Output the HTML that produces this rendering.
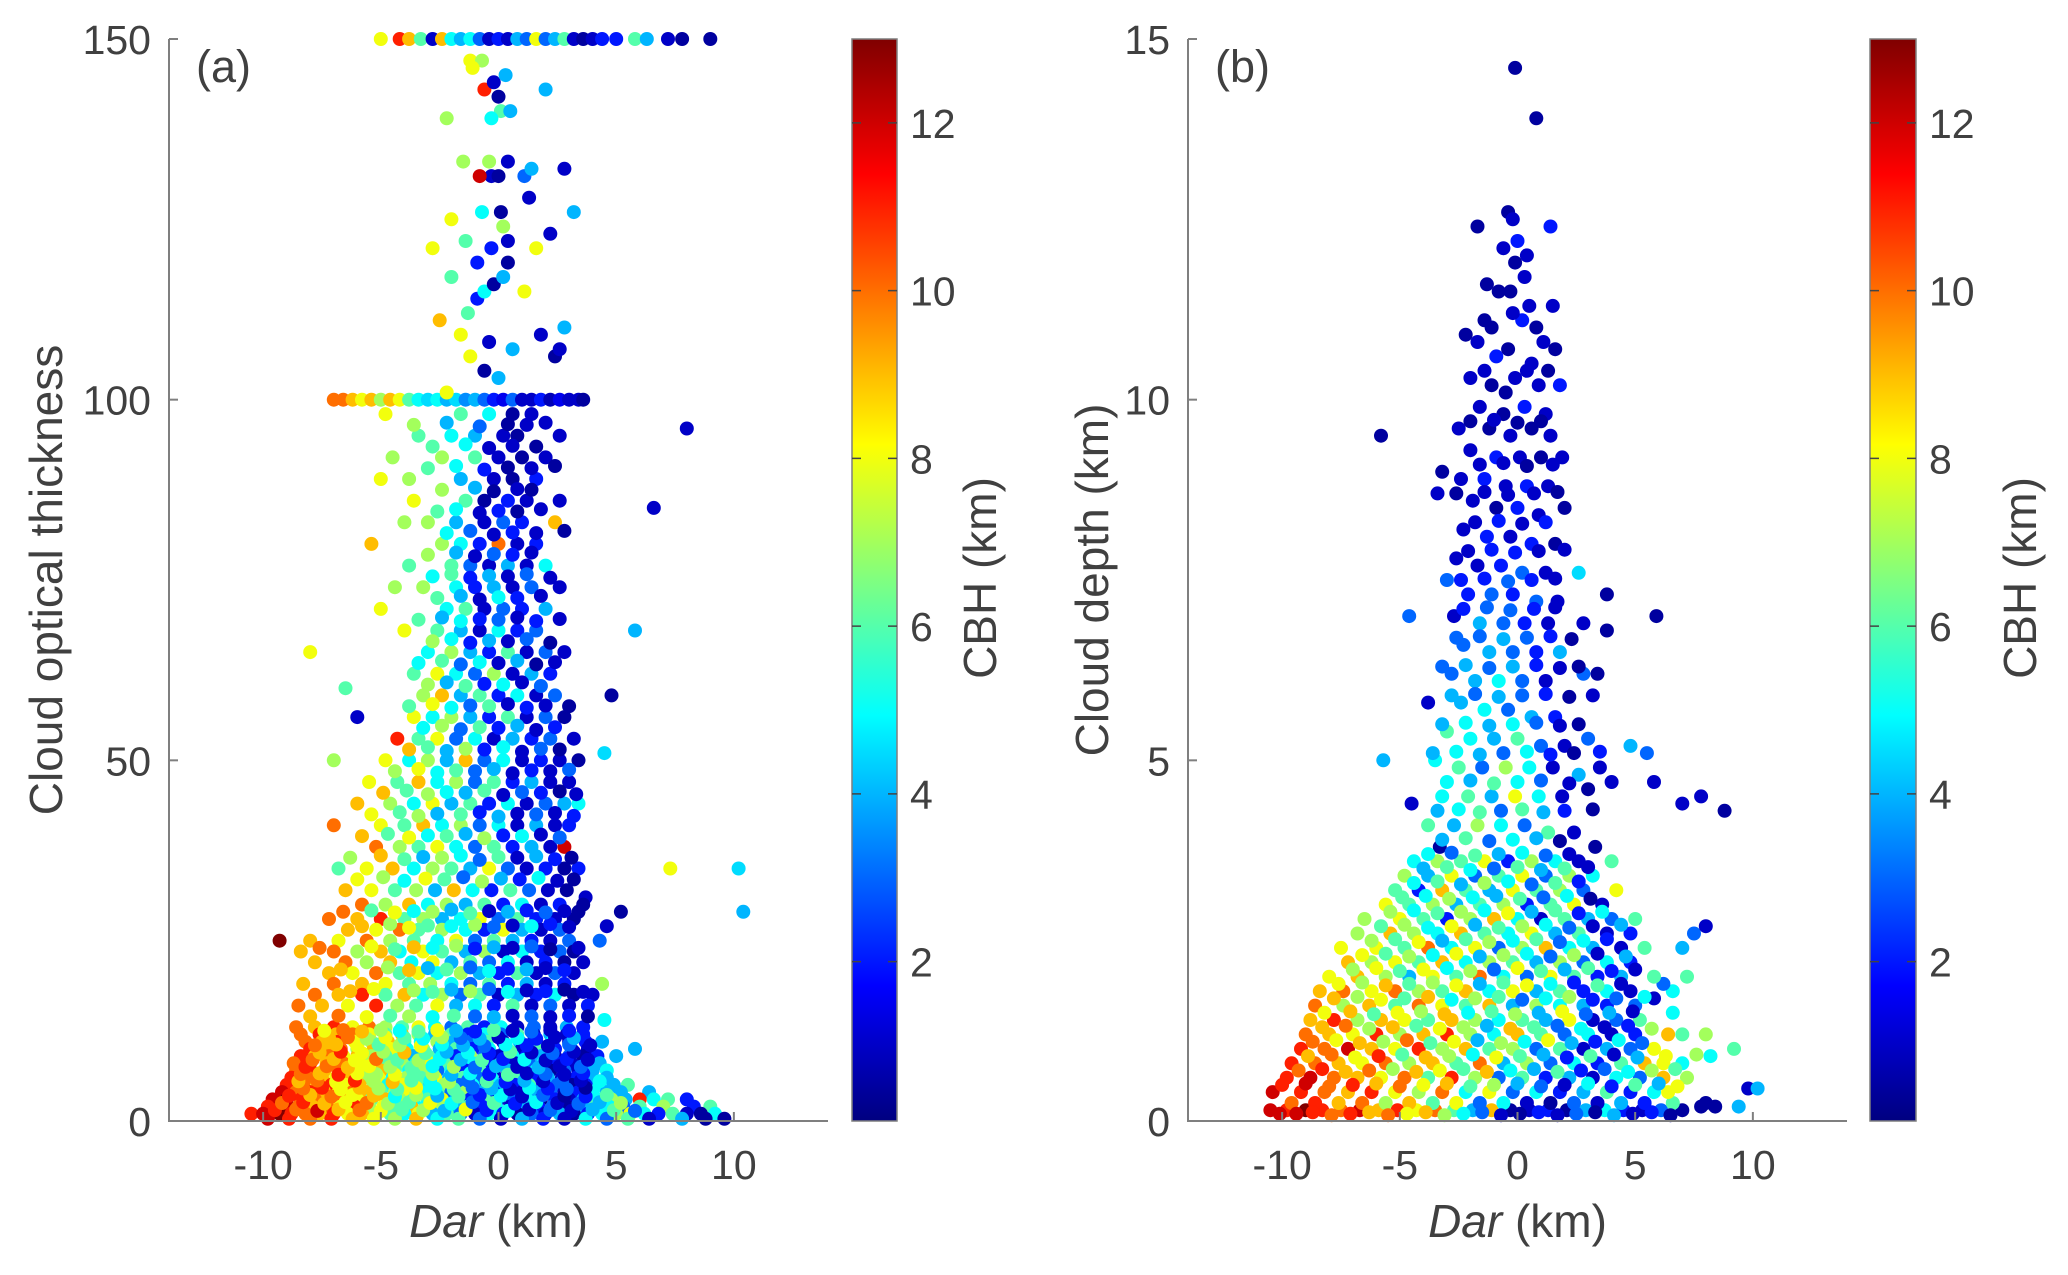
<!DOCTYPE html>
<html><head><meta charset="utf-8"><style>
html,body{margin:0;padding:0;background:#fff;}
svg{display:block;font-family:"Liberation Sans",Arial,sans-serif;}
</style></head><body>
<svg id="fig" width="2068" height="1275" viewBox="0 0 2068 1275" xmlns="http://www.w3.org/2000/svg">
<defs><linearGradient id="jetgrad" x1="0" y1="1" x2="0" y2="0"></linearGradient></defs>
</svg>
<script>
// ===== Data =====
const xTicks=[-10,-5,0,5,10];
const yTicksA=[0,50,100,150];
const yTicksB=[0,5,10,15];
const cTicks=[2,4,6,8,10,12];
const xDomain=[-14,14];
const yDomainA=[0,150];
const yDomainB=[0,15];
const cDomain=[0.1,13];

// panel (a): [Dar, optical thickness, CBH]
const pointsA=[
[-5,150,8],[-4.2,150,11],[-3.8,150,9],[-3.3,150,6],[-2.8,150,1],[-2.4,150,9],[-2,150,5],[-1.6,150,4],[-1.2,150,5],[-0.8,150,3],[-0.4,150,1],[0,150,2],[0.4,150,1],[0.8,150,4],[1.2,150,3],[1.6,150,8],[2,150,3],[2.4,150,4],[2.8,150,6],[3.2,150,1],[3.6,150,0.5],[4,150,1],[4.4,150,2],[5,150,2],[5.8,150,6],[6.3,150,4],[7.2,150,1],[7.8,150,0.5],[9,150,0.5],
[-7,100,10],[-6.6,100,10],[-6.2,100,9],[-5.8,100,8],[-5.4,100,9],[-5,100,7],[-4.6,100,9],[-4.2,100,8],[-3.8,100,6],[-3.4,100,5],[-3,100,4.5],[-2.6,100,5],[-2.2,100,4],[-1.8,100,4.5],[-1.4,100,3.5],[-1,100,4],[-0.6,100,3],[-0.2,100,2],[0.2,100,1.5],[0.6,100,3],[1,100,1],[1.4,100,1],[1.8,100,2],[2.2,100,0.8],[2.6,100,1.5],[3,100,1],[3.4,100,1],[3.6,100,0.5],
[-2.2,101,8],[0,103,4],[-1.2,106,8],[-0.6,104,0.5],[1.8,109,1],[2.4,106,0.5],[2.6,107,1],[-0.4,108,1],[0.6,107,4],[-1.6,109,8],[-1.3,112,6],[-0.9,114,2],[-0.6,115,5],[-0.2,116,0.5],[2.8,110,4],[1.1,115,8],[-2.5,111,9],[-0.9,119,2],[-2,117,6],[0.2,117,4],[0.4,119,0.5],[-0.3,121,2],[-2.8,121,8],[1.6,121,8],[0.1,126,0.5],[0.4,122,1],[-1.4,122,6],[0.2,124,7],[2.2,123,1],[3.2,126,4],[-2,125,8],[-0.7,126,5],[1.3,128,1],[-0.3,131,1],[0,131,0.5],[0.4,133,1],[1.1,131,3],[1.4,132,4],[2.8,132,1],[-0.8,131,12],[-0.4,133,7],[-1.5,133,7],[0.1,140,6],[-0.3,139,5],[0,142,0.5],[-2.2,139,7],[0.5,140,4],[-0.6,143,11],[-0.2,144,1],[0.3,145,4],[-1.2,147,8],[-0.7,147,7],[2,143,4],[-1.1,146,8],
[-4.8,98,8],[-1.6,98,6],[-0.4,98,5],[0.6,98,0.5],[1.4,98,1],
[-3.4,95,6],[-2,95,5],[-1,95,4],[0.2,95,1],[0.8,95,0.5],[2.6,95,1],[8,96,1],
[-4.5,92,7],[-2.4,92,7],[-1,92,6],[0,92,1],[1,92,0.5],[2,92,1],
[-5,89,8],[-3.8,89,7],[-1.6,89,4],[-0.2,89,1],[0.6,89,0.5],[1.6,89,2],
[-3.6,86,8],[-1.4,86,6],[-0.6,86,0.5],[0.4,86,2],[1.2,86,1],[2.6,86,1],
[-4,83,7],[-3,83,7],[-1.8,83,4],[-0.6,83,1],[0.2,83,3],[1,83,2],[2.4,83,9],[6.6,85,1],
[-5.4,80,9],[-2.4,80,7],[-1.6,80,5],[-0.8,80,2],[0,80,10],[0.8,80,1],[1.6,80,2],
[-3.8,77,6],[-2,77,6],[-1.2,77,3],[-0.4,77,1],[0.4,77,4],[1.2,77,1],[2,77,5],
[-4.4,74,7],[-3.2,74,7],[-1.8,74,5],[-1,74,2],[-0.2,74,4],[0.6,74,1],[1.4,74,3],[2.6,74,1],
[-5,71,8],[-2.2,71,5],[-1.4,71,6],[-0.6,71,1],[0.2,71,3],[1,71,2],[2,71,4],
[-4,68,8],[-2.6,68,6],[-1.6,68,4],[-0.8,68,1],[0,68,5],[0.8,68,2],[1.6,68,3],[5.8,68,4],
[-8,65,8],[-3,65,5],[-2,65,7],[-1.2,65,4],[-0.4,65,2],[0.4,65,6],[1.2,65,1],[2,65,3],[2.8,65,1],
[-3.6,62,6],[-2.6,62,8],[-1.8,62,5],[-1,62,3],[-0.2,62,7],[0.6,62,1],[1.4,62,4],[2.2,62,2],
[-6.5,60,6],[-3.2,59,7],[-2.4,59,9],[-1.6,59,4],[-0.8,59,6],[0,59,2],[0.8,59,5],[1.6,59,1],[2.4,59,3],[4.8,59,0.5],
[-6,56,1],[-3.6,56,8],[-2.8,56,5],[-2,56,7],[-1.2,56,4],[-0.4,56,2],[0.4,56,6],[1.2,56,1],[2,56,3],[2.8,56,0.5],
[-4.3,53,11],[-3.4,53,6],[-2.6,53,8],[-1.8,53,3],[-1,53,5],[-0.2,53,1],[0.6,53,4],[1.4,53,2],[2.2,53,3],[3.2,53,1],
[-7,50,7],[-4.8,50,8],[-3.8,50,5],[-3,50,7],[-2.2,50,4],[-1.4,50,9],[-0.6,50,3],[0.2,50,5],[1,50,1],[1.8,50,2],[2.6,50,1],[3.4,50,0.5],
[-5.5,47,8],[-4.3,47,6],[-3.4,47,9],[-2.6,47,5],[-1.8,47,7],[-1,47,3],[-0.2,47,6],[0.6,47,2],[1.4,47,4],[2.2,47,1],[3,47,1],[4.5,51,4.5],
[-6,44,9],[-4.6,44,7],[-3.6,44,5],[-2.8,44,8],[-2,44,4],[-1.2,44,6],[-0.4,44,2],[0.4,44,5],[1.2,44,1],[2,44,3],[2.8,44,4],[3.4,44,5],
[-7,41,10],[-5,41,8],[-4,41,6],[-3.2,41,9],[-2.4,41,5],[-1.6,41,7],[-0.8,41,3],[0,41,5],[0.8,41,1],[1.6,41,4],[2.4,41,1],[3,41,2],
[-5.2,38,10],[-4.2,38,7],[-3.4,38,6],[-2.6,38,8],[-1.8,38,5],[-1,38,3],[-0.2,38,6],[0.6,38,2],[1.4,38,4],[2.2,38,1],[2.8,38,12],
[-6.8,35,6],[-5.6,35,8],[-4.5,35,9],[-3.6,35,5],[-2.8,35,7],[-2,35,6],[-1.2,35,4],[-0.4,35,8],[0.4,35,3],[1.2,35,1],[2,35,2],[2.8,35,0.5],[3.4,35,2],[7.3,35,8],[10.2,35,4.5],
[-6.5,32,9],[-5.4,32,8],[-4.4,32,6],[-3.5,32,7],[-2.7,32,4],[-1.9,32,9],[-1.1,32,5],[-0.3,32,2],[0.5,32,6],[1.3,32,3],[2.1,32,1],[2.9,32,0.5],[3.7,31,1],[5.2,29,0.5],[10.4,29,4],
[-5.8,30,10],[-4.8,30,7],[-3.8,30,9],[-3,30,5],[-2.2,30,7],[-1.4,30,4],[-0.6,30,6],[0.2,30,2],[1,30,5],[1.8,30,1],[2.6,30,2],[3.6,30,0.5],
[-7.2,28,10],[-6,28,9],[-5,28,11],[-4,28,6],[-3.2,28,7],[-2.4,28,4],[-1.6,28,5],[-0.8,28,8],[0,28,3],[0.8,28,6],[1.6,28,2],[2.4,28,1],[3.2,28,0.5],[4.6,27,1],
[-6.4,26.5,9],[-5.2,26.5,8],[-4.2,26.5,10],[-3.4,26.5,6],[-2.4,26.5,7],[-1.4,26.5,5],[-0.6,26.5,2],[0.2,26.5,8],[1,26.5,4],[1.8,26.5,1],[2.6,26.5,3],
[-9.3,25,13],[-8,25,9],[-6.8,25,8],[-5.6,25,10],[-4.6,25,7],[-3.6,25,6],[-2.6,25,5],[-1.8,25,8],[-1,25,3],[-0.2,25,6],[0.6,25,4],[1.4,25,2],[2.2,25,1],[3,25,3],[4.3,25,3],
[-8.4,23.5,9],[-7,23.5,10],[-6,23.5,7],[-5,23.5,9],[-4.2,23.5,5],[-3.2,23.5,8],[-2.4,23.5,6],[-1.4,23.5,4],[-0.6,23.5,7],[0.2,23.5,1],[1,23.5,5],[1.8,23.5,2],[2.6,23.5,3],[3.2,23.5,0.5],
[-7.8,22,9],[-6.5,22,10],[-5.6,22,7],[-4.6,22,9],[-3.7,22,5],[-2.8,22,8],[-2,22,4],[-1.2,22,6],[-0.4,22,3],[0.4,22,5],[1.2,22,1],[2,22,2],[2.8,22,0.5],[3.6,22,1],
[-7.2,20.5,9],[-6.2,20.5,8],[-5.2,20.5,10],[-4.2,20.5,6],[-3.4,20.5,8],[-2.6,20.5,5],[-1.6,20.5,7],[-0.8,20.5,4],[0,20.5,2],[0.8,20.5,6],[1.6,20.5,1],[2.4,20.5,3],[3.2,20.5,1],
[-8.3,19,9],[-7,19,10],[-5.8,19,9],[-4.8,19,8],[-3.8,19,6],[-2.9,19,7],[-2,19,5],[-1.2,19,3],[-0.4,19,6],[0.4,19,2],[1.2,19,4],[2,19,1],[2.8,19,2],[4.4,19,7],
[-7.8,17.5,10],[-6.8,17.5,9],[-5.8,17.5,11],[-4.8,17.5,6],[-4,17.5,9],[-3.2,17.5,5],[-2.4,17.5,7],[-1.6,17.5,3],[-0.8,17.5,6],[0,17.5,1],[0.8,17.5,4],[1.6,17.5,2],[2.4,17.5,5],[3.2,17.5,0.5],[4,17.5,1],
[-8.5,16,10],[-7.5,16,9],[-6.4,16,8],[-5.2,16,11],[-4.3,16,7],[-3.5,16,6],[-2.6,16,8],[-1.8,16,4],[-1,16,5],[-0.2,16,2],[0.6,16,6],[1.4,16,1],[2.2,16,3],[3,16,1],[3.8,16,2],
[-8.6,13,10],[-7.8,13,9],[-7,13,11],[-6.2,13,8],[-5.5,13,10],[-4.8,13,7],[-4.1,13,6],[-3.4,13,8],[-2.7,13,5],[-2,13,3],[-1.3,13,6],[-0.6,13,2],[0.1,13,5],[0.8,13,1],[1.5,13,3],[2.2,13,1],[2.9,13,4],[3.6,13,2],[4.5,14,5],
[-8.4,12,10],[-7.6,12,11],[-6.9,12,9],[-6.2,12,10],[-5.5,12,8],[-4.8,12,6],[-4.1,12,9],[-3.4,12,7],[-2.7,12,4],[-2,12,6],[-1.3,12,2],[-0.6,12,5],[0.1,12,3],[0.8,12,6],[1.5,12,1],[2.2,12,4],[2.9,12,1],[3.6,12,2],
[-8.2,11,10],[-7.5,11,9],[-6.8,11,11],[-6.1,11,8],[-5.4,11,7],[-4.7,11,9],[-4,11,6],[-3.3,11,5],[-2.6,11,7],[-1.9,11,4],[-1.2,11,3],[-0.5,11,6],[0.2,11,1],[0.9,11,4],[1.6,11,2],[2.3,11,5],[3,11,1],[3.7,11,2],[4.4,11,4],
[-8,10,11],[-7.3,10,9],[-6.7,10,10],[-6,10,7],[-5.3,10,9],[-4.6,10,8],[-3.9,10,5],[-3.2,10,7],[-2.5,10,4],[-1.8,10,6],[-1.1,10,2],[-0.4,10,5],[0.3,10,3],[1,10,1],[1.7,10,6],[2.4,10,2],[3.1,10,4],[3.8,10,1],
[-8.4,9,11],[-7.8,9,9],[-7.2,9,10],[-6.6,9,8],[-6,9,9],[-5.4,9,7],[-4.8,9,6],[-4.2,9,8],[-3.6,9,4],[-3,9,6],[-2.4,9,5],[-1.8,9,2],[-1.2,9,7],[-0.6,9,3],[0,9,1],[0.6,9,5],[1.2,9,2],[1.8,9,4],[2.4,9,1],[3,9,3],[3.6,9,0.5],[4.2,9,2],[5,9,4],[5.8,10,4],
[-8.7,8,10],[-8,8,11],[-7.3,8,9],[-6.6,8,10],[-5.9,8,8],[-5.3,8,9],[-4.7,8,6],[-4.1,8,7],[-3.5,8,5],[-2.9,8,8],[-2.3,8,6],[-1.7,8,3],[-1.1,8,5],[-0.5,8,2],[0.1,8,6],[0.7,8,1],[1.3,8,3],[1.9,8,5],[2.5,8,2],[3.1,8,1],[3.7,8,1],[4.3,8,4],
[-8.6,7,10],[-8,7,11],[-7.4,7,9],[-6.8,7,10],[-6.2,7,7],[-5.6,7,8],[-5,7,9],[-4.4,7,6],[-3.8,7,5],[-3.2,7,7],[-2.6,7,3],[-2,7,5],[-1.4,7,2],[-0.8,7,6],[-0.2,7,1],[0.4,7,4],[1,7,2],[1.6,7,5],[2.2,7,0.5],[2.8,7,3],[3.4,7,1],[4,7,4],[4.6,7,5],
[-8.8,6,11],[-8.1,6,10],[-7.5,6,9],[-6.9,6,8],[-6.3,6,9],[-5.7,6,7],[-5.1,6,8],[-4.5,6,5],[-3.9,6,7],[-3.3,6,6],[-2.7,6,8],[-2.1,6,4],[-1.5,6,6],[-0.9,6,3],[-0.3,6,5],[0.3,6,1],[0.9,6,6],[1.5,6,2],[2.1,6,4],[2.7,6,1],[3.3,6,2],[3.9,6,4],[4.6,6,4],
[-9,5,11],[-8.3,5,10],[-7.7,5,9],[-7.1,5,11],[-6.5,5,8],[-5.9,5,9],[-5.3,5,7],[-4.7,5,5],[-4.1,5,8],[-3.5,5,6],[-2.9,5,4],[-2.3,5,7],[-1.7,5,3],[-1.1,5,5],[-0.5,5,1],[0.1,5,4],[0.7,5,2],[1.3,5,6],[1.9,5,1],[2.5,5,3],[3.1,5,0.5],[3.7,5,2],[4.3,5,5],[4.9,5,4],[5.5,5,6],
[-9.2,4,12],[-8.6,4,10],[-8,4,11],[-7.4,4,9],[-6.8,4,8],[-6.2,4,10],[-5.6,4,9],[-5,4,6],[-4.4,4,7],[-3.8,4,8],[-3.2,4,5],[-2.6,4,6],[-2,4,3],[-1.4,4,7],[-0.8,4,4],[-0.2,4,2],[0.4,4,6],[1,4,1],[1.6,4,4],[2.2,4,3],[2.8,4,1],[3.4,4,2],[4,4,5],[4.6,4,4],[5.2,4,4],[6.4,4,4],
[-9.6,3,12],[-9,3,13],[-8.4,3,11],[-7.8,3,10],[-7.2,3,9],[-6.6,3,10],[-6,3,8],[-5.4,3,6],[-4.8,3,9],[-4.2,3,7],[-3.6,3,5],[-3,3,6],[-2.4,3,8],[-1.8,3,4],[-1.2,3,2],[-0.6,3,6],[0,3,1],[0.6,3,3],[1.2,3,5],[1.8,3,0.5],[2.4,3,2],[3,3,1],[3.6,3,4],[4.2,3,5],[4.8,3,7],[5.4,3,4],[6,3,11],[6.6,3,5],[7.2,3,6],[8,3,2],
[-9.8,2,11],[-9,2,12],[-8.5,2,10],[-7.9,2,9],[-7.3,2,10],[-6.7,2,8],[-6.1,2,11],[-5.5,2,7],[-4.9,2,8],[-4.3,2,6],[-3.7,2,9],[-3.1,2,5],[-2.5,2,7],[-1.9,2,4],[-1.3,2,6],[-0.7,2,2],[-0.1,2,5],[0.5,2,1],[1.1,2,4],[1.7,2,2],[2.3,2,3],[2.9,2,0.5],[3.5,2,4],[4.1,2,6],[4.7,2,5],[5.3,2,3],[6,2,6],[7,2,7],[8.3,2,2],[9,2,6],
[-10.5,1,11],[-10,1,12],[-9.3,1,13],[-8.8,1,11],[-8.2,1,10],[-7.6,1,9],[-7,1,11],[-6.4,1,8],[-5.8,1,9],[-5.2,1,7],[-4.6,1,6],[-4,1,5],[-3.4,1,8],[-2.8,1,4],[-2.2,1,6],[-1.6,1,3],[-1,1,1],[-0.4,1,5],[0.2,1,2],[0.8,1,0.5],[1.4,1,3],[2,1,1],[2.6,1,4],[3.2,1,0.5],[3.8,1,2],[4.4,1,5],[5,1,7],[5.6,1,8],[6.2,1,5],[6.8,1,2],[7.4,1,6],[8,1,1],[8.6,1,0.5],[9.2,1,5],[9.6,0.3,0.5]
];
const pointsAExtra=[
[-9.8,0.3,12],[-8.9,0.3,11],[-8,0.3,10],[-7.1,0.3,11],[-6.2,0.3,9],[-5.3,0.3,8],[-4.4,0.3,7],[-3.5,0.3,9],[-2.6,0.3,5],[-1.7,0.3,6],[-0.8,0.3,3],[0.1,0.3,1],[1,0.3,4],[1.9,0.3,2],[2.8,0.3,1],[3.7,0.3,5],[4.6,0.3,3],[5.5,0.3,6],[6.4,0.3,1],[7.8,0.3,4],[8.8,0.3,0.5],
[-9.5,1.5,11],[-8.6,1.6,10],[-7.7,1.4,12],[-6.8,1.6,9],[-5.9,1.5,10],[-5,1.4,8],[-4.1,1.6,6],[-3.2,1.5,7],[-2.3,1.4,4],[-1.4,1.6,8],[-0.5,1.5,2],[0.4,1.4,5],[1.3,1.6,1],[2.2,1.5,3],[3.1,1.4,1],[4,1.6,4],[4.9,1.5,6],[5.8,1.4,3],
[-9.2,2.5,10],[-8.3,2.6,11],[-7.4,2.4,9],[-6.5,2.6,8],[-5.6,2.5,10],[-4.7,2.4,7],[-3.8,2.6,6],[-2.9,2.5,8],[-2,2.4,5],[-1.1,2.6,3],[-0.2,2.5,6],[0.7,2.4,2],[1.6,2.6,5],[2.5,2.5,1],[3.4,2.4,3],[4.3,2.6,4],[5.2,2.5,7],
[-8.9,3.5,11],[-8,3.6,9],[-7.1,3.4,10],[-6.2,3.6,8],[-5.3,3.5,9],[-4.4,3.4,5],[-3.5,3.6,7],[-2.6,3.5,4],[-1.7,3.4,6],[-0.8,3.6,2],[0.1,3.5,5],[1,3.4,1],[1.9,3.6,3],[2.8,3.5,0.5],[3.7,3.4,2],[4.6,3.6,6],
[-8.3,4.5,10],[-7.5,4.6,11],[-6.7,4.4,8],[-5.9,4.6,9],[-5.1,4.5,7],[-4.3,4.4,6],[-3.5,4.6,8],[-2.7,4.5,5],[-1.9,4.4,6],[-1.1,4.6,3],[-0.3,4.5,4],[0.5,4.4,1],[1.3,4.6,5],[2.1,4.5,2],[2.9,4.4,3],[3.7,4.6,0.5],
[-8.5,5.5,9],[-7.7,5.6,10],[-6.9,5.4,8],[-6.1,5.6,11],[-5.3,5.5,7],[-4.5,5.4,9],[-3.7,5.6,6],[-2.9,5.5,5],[-2.1,5.4,7],[-1.3,5.6,3],[-0.5,5.5,6],[0.3,5.4,2],[1.1,5.6,4],[1.9,5.5,1],[2.7,5.4,3],[3.5,5.6,1],[4.3,5.5,5],
[-8.4,6.5,10],[-7.6,6.6,9],[-6.8,6.4,11],[-6,6.6,8],[-5.2,6.5,7],[-4.4,6.4,8],[-3.6,6.6,6],[-2.8,6.5,7],[-2,6.4,4],[-1.2,6.6,5],[-0.4,6.5,2],[0.4,6.4,6],[1.2,6.6,1],[2,6.5,3],[2.8,6.4,1],[3.6,6.6,2],
[-8.2,7.5,11],[-7.3,7.6,10],[-6.4,7.4,9],[-5.5,7.6,8],[-4.6,7.5,7],[-3.7,7.4,6],[-2.8,7.6,5],[-1.9,7.5,7],[-1,7.4,3],[-0.1,7.6,4],[0.8,7.5,1],[1.7,7.4,4],[2.6,7.6,1],[3.5,7.5,3],
[-7.9,8.5,10],[-7,8.6,9],[-6.1,8.4,8],[-5.2,8.6,10],[-4.3,8.5,6],[-3.4,8.4,7],[-2.5,8.6,5],[-1.6,8.5,4],[-0.7,8.4,6],[0.2,8.6,2],[1.1,8.5,5],[2,8.4,1],[2.9,8.6,2],[3.8,8.5,1],
[-7.6,9.5,9],[-6.7,9.6,11],[-5.8,9.4,8],[-4.9,9.6,7],[-4,9.5,9],[-3.1,9.4,6],[-2.2,9.6,4],[-1.3,9.5,5],[-0.4,9.4,2],[0.5,9.6,6],[1.4,9.5,1],[2.3,9.4,3],[3.2,9.6,1],
[-7.8,10.5,10],[-6.9,10.6,9],[-6,10.4,8],[-5.1,10.6,6],[-4.2,10.5,7],[-3.3,10.4,8],[-2.4,10.6,5],[-1.5,10.5,4],[-0.6,10.4,3],[0.3,10.6,5],[1.2,10.5,2],[2.1,10.4,1],[3,10.6,3],[3.9,10.5,1],
[-7.2,11.5,9],[-6.4,11.6,10],[-5.6,11.4,7],[-4.8,11.6,8],[-4,11.5,6],[-3.2,11.4,5],[-2.4,11.6,7],[-1.6,11.5,3],[-0.8,11.4,4],[0,11.6,1],[0.8,11.5,5],[1.6,11.4,2],[2.4,11.6,1],[3.2,11.5,4],
[-7.4,12.5,8],[-6.6,12.6,10],[-5.8,12.4,9],[-5,12.6,7],[-4.2,12.5,5],[-3.4,12.4,6],[-2.6,12.6,8],[-1.8,12.5,4],[-1,12.4,2],[-0.2,12.6,6],[0.6,12.5,1],[1.4,12.4,3],[2.2,12.6,1],[3,12.5,2],
[-8,14.5,9],[-6.8,14.6,10],[-5.6,14.4,8],[-4.6,14.6,6],[-3.8,14.5,7],[-2.8,14.4,5],[-1.9,14.6,6],[-1,14.5,3],[-0.2,14.4,4],[0.6,14.6,1],[1.4,14.5,3],[2.2,14.4,1],[3,14.6,2],[3.8,14.5,0.5],
[-6.3,18,9],[-5.3,18.3,8],[-3.6,18.1,7],[-2.8,17.9,6],[-2,18.2,4],[-1.2,18,7],[-0.4,18.3,3],[0.4,17.9,5],[1.2,18.1,1],[2,18,2],[2.8,18.2,0.5],[3.6,17.9,1],
[-6.7,21,9],[-4.7,21.3,7],[-3.8,20.9,9],[-3,21.2,4],[-2.2,21,6],[-1.2,21.3,3],[-0.4,20.8,5],[0.4,21.1,2],[1.2,21,4],[2,21.2,1],[2.8,20.9,2],
[-7.6,24,10],[-5.4,24.2,8],[-4.4,23.8,6],[-3.6,24.1,9],[-2.8,24,5],[-1.8,24.3,7],[-1,23.9,2],[-0.2,24.1,4],[0.6,24,1],[1.4,24.2,3],[2.2,23.8,0.5],[3.4,24,1],
[-5.8,27,9],[-4.6,27.3,7],[-3.8,26.8,8],[-3,27.1,6],[-2,27,5],[-1,27.2,7],[-0.2,26.9,3],[0.6,27.1,1],[1.4,27,5],[2.2,27.3,2],[3,26.9,1],
[-6.6,29,10],[-5.4,29.2,6],[-4.4,28.9,8],[-3.6,29.1,5],[-2.8,29,7],[-2,29.3,4],[-1.2,28.8,6],[-0.4,29.1,1],[0.4,29,4],[1.2,29.2,2],[2,28.9,3],[2.8,29.1,1],[3.4,29,0.5],
[-6,33.5,8],[-4.9,33.8,7],[-4,33.3,5],[-3.1,33.6,8],[-2.3,33.5,6],[-1.5,33.8,3],[-0.7,33.2,7],[0.1,33.6,4],[0.9,33.5,2],[1.7,33.7,5],[2.5,33.3,1],[3.2,33.5,0.5],
[-6.3,36.5,7],[-5,36.8,9],[-4,36.3,6],[-3.2,36.6,4],[-2.4,36.5,7],[-1.6,36.8,5],[-0.8,36.2,3],[0,36.6,6],[0.8,36.5,1],[1.6,36.7,4],[2.4,36.3,2],[3.1,36.5,0.5],
[-5.8,39.5,9],[-4.7,39.8,6],[-3.8,39.3,8],[-3,39.6,5],[-2.2,39.5,6],[-1.4,39.8,4],[-0.6,39.2,7],[0.2,39.6,2],[1,39.5,5],[1.8,39.7,1],[2.6,39.3,3],
[-5.4,42.5,8],[-4.2,42.8,6],[-3.4,42.3,7],[-2.6,42.6,4],[-1.6,42.5,6],[-0.8,42.8,2],[0,42.2,4],[0.8,42.6,1],[1.6,42.5,3],[2.4,42.7,1],[3.2,42.3,2],
[-4.9,45.5,9],[-3.9,45.8,6],[-3,45.3,7],[-2.2,45.6,5],[-1.4,45.5,4],[-0.6,45.8,6],[0.2,45.2,1],[1,45.6,3],[1.8,45.5,2],[2.6,45.7,0.5],[3.3,45.3,1],
[-4.4,48.5,7],[-3.4,48.8,8],[-2.6,48.3,5],[-1.8,48.6,6],[-1,48.5,3],[-0.2,48.8,4],[0.6,48.2,1],[1.4,48.6,2],[2.2,48.5,1],[3,48.7,3],
[-3.8,51.5,9],[-3,51.8,6],[-2.2,51.3,4],[-1.4,51.6,7],[-0.6,51.5,2],[0.2,51.8,5],[1,51.2,1],[1.8,51.6,3],[2.6,51.5,0.5],
[-3.2,54.5,5],[-2.4,54.8,7],[-1.6,54.3,3],[-0.8,54.6,6],[0,54.5,2],[0.8,54.8,4],[1.6,54.2,1],[2.4,54.6,2],
[-3.8,57.5,6],[-2.8,57.8,8],[-2,57.3,5],[-1.2,57.6,3],[-0.4,57.5,6],[0.4,57.8,1],[1.2,57.3,2],[2,57.6,1],[3,57.5,0.5],
[-3,60.5,7],[-2.2,60.8,4],[-1.4,60.3,6],[-0.6,60.6,2],[0.2,60.5,5],[1,60.8,1],[1.8,60.3,3],
[-3.4,63.5,5],[-2.4,63.8,6],[-1.6,63.3,3],[-0.8,63.6,5],[0,63.5,1],[0.8,63.8,4],[1.6,63.3,0.5],[2.4,63.6,1],
[-2.8,66.5,7],[-2,66.8,5],[-1.2,66.3,2],[-0.4,66.6,4],[0.4,66.5,1],[1.2,66.8,3],[2.2,66.3,0.5],
[-3.4,69.5,6],[-2.4,69.8,4],[-1.6,69.3,5],[-0.8,69.6,2],[0,69.5,3],[0.8,69.8,1],[1.6,69.3,2],[2.6,69.6,1],
[-2.6,72.5,6],[-1.6,72.8,4],[-0.8,72.3,1],[0,72.6,5],[0.8,72.5,2],[1.8,72.8,1],
[-2.8,75.5,5],[-2,75.8,6],[-1.2,75.3,2],[-0.4,75.6,4],[0.4,75.5,1],[1.2,75.8,3],[2.2,75.3,1],
[-3,78.5,7],[-1.8,78.8,4],[-1,78.3,1],[-0.2,78.6,3],[0.6,78.5,2],[1.4,78.8,1],
[-2.2,81.5,5],[-1.2,81.8,3],[-0.2,81.3,1],[0.6,81.6,2],[1.6,81.5,1],[2.8,81.8,0.5],
[-2.6,84.5,6],[-1.8,84.8,5],[-0.8,84.3,1],[0,84.6,2],[0.8,84.5,0.5],[1.8,84.8,1],
[-2.4,87.5,7],[-1,87.8,4],[-0.2,87.3,0.5],[0.8,87.6,1],[1.4,87.5,0.5],
[-3,90.5,6],[-1.8,90.8,5],[-0.6,90.3,2],[0.4,90.6,0.5],[1.4,90.5,1],[2.4,90.8,0.5],
[-2.8,93.5,6],[-1.4,93.8,5],[-0.4,93.3,1],[0.6,93.6,1],[1.6,93.5,0.5],
[-3.6,96.5,7],[-2.2,96.8,4],[-0.8,96.3,3],[0.4,96.6,0.5],[1.2,96.5,1],[2,96.8,1]
];

// panel (b): [Dar, cloud depth, CBH]
const pointsB=[
[-10.5,0.15,12],[-9.8,0.15,11],[-9,0.15,13],[-8.3,0.15,11],[-7.5,0.15,10],[-6.7,0.15,12],[-5.9,0.15,9],[-5.1,0.15,11],[-4.3,0.15,8],[-3.5,0.15,10],[-2.7,0.15,6],[-1.9,0.15,4],[-1.1,0.15,9],[-0.3,0.15,0.5],[0.5,0.15,1],[1.3,0.15,2],[2.1,0.15,0.5],[2.9,0.15,4],[3.7,0.15,5],[4.5,0.15,2],[5.3,0.15,1],[6.1,0.15,3],[7,0.15,0.5],[7.8,0.2,0.5],[8.4,0.2,0.5],[9.4,0.2,4],
[-9.6,0.25,10],[-8.6,0.25,11],[-7.6,0.25,9],[-6.6,0.25,10],[-5.6,0.25,7],[-4.6,0.25,9],[-3.6,0.25,6],[-2.6,0.25,8],[-1.6,0.25,3],[-0.6,0.25,5],[0.4,0.25,1],[1.4,0.25,0.5],[2.4,0.25,3],[3.4,0.25,1],[4.4,0.25,4],[5.4,0.25,2],[6.6,0.25,6],[8,0.25,0.5],
[-10.4,0.4,12],[-9.2,0.4,11],[-8.2,0.4,10],[-7.2,0.4,9],[-6.2,0.4,11],[-5.2,0.4,8],[-4.2,0.4,7],[-3.2,0.4,10],[-2.2,0.4,5],[-1.2,0.4,8],[-0.2,0.4,3],[0.8,0.4,5],[1.8,0.4,2],[2.8,0.4,4],[3.8,0.4,6],[4.8,0.4,2],[5.8,0.4,5],[6.4,0.4,8],[9.8,0.45,1],[10.2,0.45,4],
[-9.8,0.6,11],[-8.8,0.6,12],[-7.8,0.6,10],[-6.8,0.6,9],[-5.8,0.6,8],[-4.8,0.6,10],[-3.8,0.6,6],[-2.8,0.6,11],[-1.8,0.6,7],[-0.8,0.6,3],[0.2,0.6,6],[1.2,0.6,2],[2.2,0.6,4],[3.2,0.6,1],[4.2,0.6,5],[5.2,0.6,3],[6.2,0.6,9],[7.2,0.6,7],
[-9.6,0.8,11],[-8.6,0.8,10],[-7.6,0.8,9],[-6.6,0.8,8],[-5.6,0.8,10],[-4.6,0.8,7],[-3.6,0.8,9],[-2.6,0.8,6],[-1.6,0.8,10],[-0.6,0.8,4],[0.4,0.8,7],[1.4,0.8,3],[2.4,0.8,5],[3.4,0.8,2],[4.4,0.8,6],[5.4,0.8,9],[6.2,0.8,8],[7,0.8,5],[8.2,0.9,5],[9.2,1,6],
[-9.2,1,11],[-8.2,1,10],[-7.2,1,12],[-6.2,1,9],[-5.2,1,8],[-4.2,1,11],[-3.2,1,7],[-2.2,1,9],[-1.2,1,6],[-0.2,1,7],[0.8,1,3],[1.8,1,6],[2.8,1,1],[3.8,1,4],[4.8,1,3],[5.8,1,8],
[-9,1.2,10],[-8,1.2,9],[-7,1.2,8],[-6,1.2,11],[-5,1.2,7],[-4,1.2,9],[-3,1.2,11],[-2,1.2,7],[-1,1.2,5],[0,1.2,9],[1,1.2,6],[2,1.2,3],[3,1.2,5],[4,1.2,1],[5,1.2,2],[6.4,1.2,9],[7,1.2,6],[8,1.2,7],
[-8.8,1.4,9],[-7.8,1.4,11],[-6.8,1.4,7],[-5.8,1.4,9],[-4.8,1.4,8],[-3.8,1.4,6],[-2.8,1.4,9],[-1.8,1.4,7],[-0.8,1.4,5],[0.2,1.4,6],[1.2,1.4,4],[2.2,1.4,8],[3.2,1.4,1],[4.2,1.4,3],[5.2,1.4,6],[6.6,1.5,5],
[-8.6,1.6,10],[-7.4,1.6,7],[-6.3,1.6,9],[-5.2,1.6,6],[-4.2,1.6,10],[-3.2,1.6,8],[-2.2,1.6,6],[-1.2,1.6,9],[-0.2,1.6,4],[0.8,1.6,7],[1.8,1.6,5],[2.8,1.6,4],[3.8,1.6,2],[5,1.6,3],[5.8,1.7,1],[6.6,1.8,5],
[-8.4,1.8,9],[-7.4,1.8,10],[-6.2,1.8,8],[-5.2,1.8,10],[-4.2,1.8,7],[-3.2,1.8,6],[-2.2,1.8,9],[-1.2,1.8,5],[-0.2,1.8,8],[0.8,1.8,4],[1.8,1.8,6],[2.8,1.8,2],[3.8,1.8,5],[4.8,1.8,1],[6.2,1.9,3],
[-8,2,8],[-6.8,2,9],[-5.6,2,7],[-4.6,2,4],[-3.6,2,8],[-2.6,2,6],[-1.6,2,10],[-0.6,2,5],[0.4,2,3],[1.4,2,8],[2.4,2,6],[3.4,2,2],[4.4,2,4],[5.8,2,6],[7.2,2,6],
[-7.2,2.2,9],[-6.2,2.2,7],[-5.2,2.2,8],[-4.2,2.2,6],[-3.2,2.2,9],[-2.2,2.2,5],[-1.2,2.2,7],[-0.2,2.2,6],[0.8,2.2,4],[1.8,2.2,7],[2.8,2.2,3],[3.8,2.2,5],[4.8,2.2,2],
[-7.5,2.4,8],[-6,2.4,8],[-4.8,2.4,6],[-3.8,2.4,10],[-2.8,2.4,5],[-1.8,2.4,8],[-0.8,2.4,3],[0.2,2.4,7],[1.2,2.4,9],[2.2,2.4,5],[3.2,2.4,4],[4.4,2.4,1],[5.4,2.4,6],[7,2.4,4],[7.5,2.6,3],
[-6.8,2.6,7],[-5.4,2.6,9],[-4.4,2.6,7],[-3.4,2.6,5],[-2.4,2.6,9],[-1.4,2.6,6],[-0.4,2.6,5],[0.6,2.6,8],[1.6,2.6,4],[2.6,2.6,6],[3.8,2.6,1],[4.8,2.6,2],
[-6.5,2.8,7],[-5,2.8,8],[-4,2.8,6],[-3,2.8,2],[-2,2.8,7],[-1,2.8,9],[0,2.8,5],[1,2.8,1],[2,2.8,6],[3,2.8,4],[4,2.8,3],[5,2.8,6],[8,2.7,1],
[-5.6,3,8],[-4.6,3,6],[-3.6,3,7],[-2.6,3,4],[-1.6,3,6],[-0.6,3,7],[0.4,3,2],[1.4,3,6],[2.4,3,8],[3.6,3,1],
[-5.2,3.2,6],[-4.2,3.2,2],[-3.2,3.2,9],[-2.2,3.2,6],[-1.2,3.2,4],[-0.2,3.2,8],[0.8,3.2,6],[1.8,3.2,7],[2.8,3.2,3],[4.2,3.2,8],
[-4.8,3.4,7],[-3.8,3.4,4],[-2.8,3.4,8],[-1.8,3.4,3],[-0.8,3.4,6],[0.2,3.4,8],[1.2,3.4,3],[2.2,3.4,7],[3.2,3.4,5],
[-4.4,3.6,5],[-3.4,3.6,7],[-2.4,3.6,6],[-1.4,3.6,8],[-0.4,3.6,2],[0.6,3.6,7],[1.6,3.6,5],[2.6,3.6,1],[4,3.6,6],
[-3.3,3.8,0.5],[3.3,3.8,0.5],
[-3.8,4.1,6],[-2.7,4.1,4],[-1.7,4.1,7],[-0.7,4.1,5],[0.3,4.1,3],[1.3,4.0,6],[2.4,4.0,1],
[-4.5,4.4,1],[-3.2,4.5,5],[-2.1,4.5,6],[-1.1,4.5,4],[-0.1,4.5,8],[0.9,4.5,5],[1.9,4.5,1],[3,4.6,0.5],[5.8,4.7,1],[7,4.4,1],[7.8,4.5,1],[8.8,4.3,0.5],
[-3.5,5.0,5],[-2.5,4.9,6],[-1.5,4.9,3],[-0.5,4.9,7],[0.5,4.9,5],[1.5,4.9,1],[2.6,4.8,4],[3.5,4.9,1],
[-3.0,5.4,6],[-2,5.3,5],[-1,5.3,4],[0,5.3,6],[1,5.2,3],[2,5.2,1],[3,5.3,3],[4.8,5.2,4],[5.5,5.1,3],[-5.7,5,4],
[-3.8,5.8,1],[-2.4,5.8,4],[-1.4,5.7,5],[-0.4,5.7,3],[0.6,5.6,4],[1.6,5.6,2],[3.2,5.9,1],
[-2.8,6.2,3],[-1.8,6.1,4],[-0.8,6.1,5],[0.2,6.1,3],[1.2,6.1,1],[2.8,6.2,3],[3.4,6.2,0.5],
[-2.3,6.6,3],[-1.2,6.5,4],[-0.2,6.5,3],[0.8,6.5,2],[1.8,6.5,4],[3.8,6.8,0.5],
[-2.7,7.0,1],[-1.6,6.9,4],[-0.6,6.9,3],[0.3,6.9,2],[1.3,6.9,1],[2.8,6.9,1],[-4.6,7,3],[5.9,7.0,0.5],
[-3,7.5,3],[-2.1,7.3,2],[-1.1,7.3,3],[-0.2,7.3,2],[0.8,7.2,3],[1.7,7.2,1],[3.8,7.3,0.5],
[-2.6,7.8,1],[-1.7,7.7,1],[-0.7,7.7,2],[0.2,7.6,3],[1.2,7.6,1],[2.6,7.6,4.5],
[-2.3,8.2,1],[-1.3,8.1,2],[-0.3,8.1,1],[0.6,8.0,2],[1.6,8.0,0.5],
[-3.4,8.7,1],[-1.9,8.6,1],[-0.9,8.5,0.5],[0,8.5,2],[0.9,8.4,1],[2,8.5,0.5],
[-3.2,9.0,0.5],[-2.4,8.9,1],[-1.4,8.9,2],[-0.5,8.8,1],[0.4,8.8,2],[1.3,8.8,1],
[-2,9.3,1],[-0.9,9.2,2],[0.1,9.2,1],[1,9.2,0.5],[1.9,9.2,1],
[-5.8,9.5,0.5],[-2.5,9.6,1],[-1.2,9.6,0.5],[-0.3,9.5,1],[0.6,9.6,0.5],[1.4,9.5,1],
[-1.6,9.9,1],[-0.6,9.8,0.5],[0.3,9.9,2],[1.2,9.8,1],
[-2.0,10.3,1],[-1.1,10.2,0.5],[-0.1,10.3,1],[0.9,10.2,1],[1.8,10.2,2],
[-0.9,10.6,2],[0.6,10.5,1],[-2.2,10.9,0.5],[-1.7,10.8,1],[-0.4,10.7,0.5],[1.1,10.8,1],[1.6,10.7,0.5],
[-1.4,11.1,0.5],[0.2,11.1,2],[0.5,11.3,1],[1.5,11.3,1],[-1.3,11.6,0.5],[-0.8,11.5,0.5],
[-0.1,11.9,0.5],[0.3,11.7,1],[-0.6,12.1,1],[0,12.2,2],
[-0.4,12.6,0.5],[-0.2,12.5,1],[-1.7,12.4,0.5],[1.4,12.4,2],
[0.8,13.9,0.5],[-0.1,14.6,0.5]
];
const pointsBExtra=[
[-10.1,0.1,12],[-9.4,0.1,12],[-8.7,0.12,11],[-7.9,0.08,10],[-7.1,0.1,11],[-6.3,0.12,9],[-5.5,0.08,10],[-4.7,0.1,8],[-3.9,0.12,9],[-3.1,0.08,7],[-2.3,0.1,5],[-1.5,0.12,3],[-0.7,0.08,1],[0.1,0.1,0.5],[0.9,0.12,2],[1.7,0.08,1],[2.5,0.1,3],[3.3,0.12,0.5],[4.1,0.08,4],[4.9,0.1,1],[5.7,0.12,2],[6.5,0.08,0.5],
[-10,0.5,11],[-9,0.52,12],[-8,0.48,10],[-7,0.5,11],[-6,0.52,9],[-5,0.48,10],[-4,0.5,8],[-3,0.52,9],[-2,0.48,6],[-1,0.5,7],[0,0.52,4],[1,0.48,3],[2,0.5,1],[3,0.52,5],[4,0.48,2],[5,0.5,6],[6,0.52,4],[6.8,0.48,8],
[-9.3,0.7,10],[-8.3,0.72,11],[-7.3,0.68,9],[-6.3,0.7,10],[-5.3,0.72,7],[-4.3,0.68,9],[-3.3,0.7,8],[-2.3,0.72,6],[-1.3,0.68,9],[-0.3,0.7,5],[0.7,0.72,4],[1.7,0.68,6],[2.7,0.7,2],[3.7,0.72,3],[4.7,0.68,5],[5.7,0.7,7],[6.7,0.72,6],
[-8.9,0.9,9],[-7.9,0.92,10],[-6.9,0.88,8],[-5.9,0.9,11],[-4.9,0.92,6],[-3.9,0.88,9],[-2.9,0.9,7],[-1.9,0.92,5],[-0.9,0.88,8],[0.1,0.9,6],[1.1,0.92,4],[2.1,0.88,2],[3.1,0.9,6],[4.1,0.92,1],[5.1,0.88,4],[6.3,0.9,8],[7.6,0.92,7],
[-8.7,1.1,10],[-7.7,1.12,8],[-6.7,1.08,9],[-5.7,1.1,7],[-4.7,1.12,10],[-3.7,1.08,6],[-2.7,1.1,8],[-1.7,1.12,4],[-0.7,1.08,7],[0.3,1.1,5],[1.3,1.12,8],[2.3,1.08,4],[3.3,1.1,2],[4.3,1.12,5],[5.3,1.08,3],
[-8.3,1.3,9],[-7.3,1.32,10],[-6.3,1.28,7],[-5.3,1.3,9],[-4.3,1.32,6],[-3.3,1.28,8],[-2.3,1.3,7],[-1.3,1.32,4],[-0.3,1.28,9],[0.7,1.3,6],[1.7,1.32,3],[2.7,1.28,5],[3.7,1.3,1],[4.7,1.32,2],[5.7,1.28,7],
[-8.2,1.5,8],[-7.1,1.52,9],[-6.1,1.48,6],[-5.1,1.5,8],[-4.1,1.52,7],[-3.1,1.48,9],[-2.1,1.5,5],[-1.1,1.52,6],[-0.1,1.48,7],[0.9,1.5,4],[1.9,1.52,8],[2.9,1.48,3],[3.9,1.5,4],[4.9,1.52,1],
[-7.8,1.7,9],[-6.8,1.72,7],[-5.8,1.68,8],[-4.8,1.7,6],[-3.8,1.72,9],[-2.8,1.68,5],[-1.8,1.7,7],[-0.8,1.72,6],[0.2,1.68,3],[1.2,1.7,5],[2.2,1.72,7],[3.2,1.68,2],[4.2,1.7,3],[5.4,1.72,5],
[-7.6,1.9,8],[-6.6,1.92,7],[-5.6,1.88,9],[-4.6,1.9,6],[-3.6,1.92,7],[-2.6,1.88,8],[-1.6,1.9,4],[-0.6,1.92,6],[0.4,1.88,8],[1.4,1.9,5],[2.4,1.92,2],[3.4,1.88,6],[4.4,1.9,1],
[-7,2.1,7],[-6,2.12,8],[-5,2.08,6],[-4,2.1,8],[-3,2.12,5],[-2,2.08,7],[-1,2.1,3],[0,2.12,8],[1,2.08,6],[2,2.1,4],[3,2.12,6],[4,2.08,2],[5,2.1,1],
[-6.6,2.3,8],[-5.6,2.32,6],[-4.6,2.28,7],[-3.6,2.3,5],[-2.6,2.32,8],[-1.6,2.28,4],[-0.6,2.3,7],[0.4,2.32,5],[1.4,2.28,3],[2.4,2.3,7],[3.4,2.32,1],[4.6,2.28,4],
[-6.2,2.5,7],[-5.2,2.52,6],[-4.2,2.48,8],[-3.2,2.5,4],[-2.2,2.52,6],[-1.2,2.48,7],[-0.2,2.5,5],[0.8,2.52,6],[1.8,2.48,3],[2.8,2.5,5],[3.8,2.52,2],
[-5.8,2.7,6],[-4.8,2.72,7],[-3.8,2.68,5],[-2.8,2.7,8],[-1.8,2.72,4],[-0.8,2.68,6],[0.2,2.7,7],[1.2,2.72,5],[2.2,2.68,3],[3.2,2.7,1],[4.4,2.72,4],
[-5.4,2.9,7],[-4.4,2.92,5],[-3.4,2.88,6],[-2.4,2.9,7],[-1.4,2.92,5],[-0.4,2.88,8],[0.6,2.9,4],[1.6,2.92,6],[2.6,2.88,2],[3.6,2.9,5],
[-4.9,3.1,6],[-3.9,3.12,5],[-2.9,3.08,7],[-1.9,3.1,5],[-0.9,3.12,4],[0.1,3.08,6],[1.1,3.1,3],[2.1,3.12,5],[3.1,3.08,0.5],
[-4.4,3.3,5],[-3.4,3.32,6],[-2.4,3.28,4],[-1.4,3.3,7],[-0.4,3.32,5],[0.6,3.28,3],[1.6,3.3,6],[2.6,3.32,2],
[-4,3.5,4],[-3,3.52,6],[-2,3.48,5],[-1,3.5,3],[0,3.52,6],[1,3.48,4],[2,3.5,6],[3,3.52,1],
[-3.8,3.7,5],[-2.8,3.72,3],[-1.8,3.68,6],[-0.8,3.7,4],[0.2,3.72,5],[1.2,3.68,3],[2.2,3.7,1],
[-3.2,3.9,4],[-2.2,3.92,6],[-1.2,3.88,3],[-0.2,3.9,5],[0.8,3.92,4],[1.8,3.88,0.5],
[-3.4,4.3,4],[-2.5,4.32,5],[-1.6,4.28,6],[-0.7,4.3,3],[0.2,4.32,6],[1.1,4.28,4],[2,4.3,2],[3.2,4.32,0.5],
[-3,4.7,5],[-2,4.72,4],[-1,4.68,6],[0,4.7,5],[1,4.72,3],[2.2,4.68,1],[4,4.7,1],
[-3.6,5.1,4],[-2.6,5.12,5],[-1.6,5.08,4],[-0.6,5.1,3],[0.4,5.12,5],[1.4,5.08,2],[2.4,5.1,0.5],[3.5,5.12,2],
[-3.2,5.5,4],[-2.2,5.52,5],[-1.2,5.48,4],[-0.2,5.5,5],[0.8,5.52,3],[1.8,5.48,1],[2.6,5.5,0.5],
[-2.8,5.9,4],[-1.8,5.92,3],[-0.8,5.88,4],[0.2,5.9,3],[1.2,5.92,2],[2.2,5.88,0.5],
[-3.2,6.3,3],[-2.2,6.32,4],[-1.2,6.28,3],[-0.2,6.3,4],[0.8,6.32,2],[1.8,6.28,1],[2.6,6.3,0.5],
[-2.6,6.7,3],[-1.6,6.72,3],[-0.6,6.68,4],[0.4,6.7,3],[1.4,6.72,2],[2.3,6.68,0.5],
[-2.3,7.1,2],[-1.3,7.12,3],[-0.3,7.08,3],[0.7,7.1,2],[1.6,7.12,1],
[-2.4,7.5,2],[-1.4,7.52,2],[-0.4,7.48,3],[0.6,7.5,2],[1.6,7.52,1],
[-2.1,7.9,1],[-1.1,7.92,2],[-0.1,7.88,2],[0.9,7.9,1],[2,7.92,1],
[-1.8,8.3,1],[-0.8,8.32,2],[0.2,8.28,1],[1.2,8.3,2],
[-2.6,8.7,0.5],[-1.4,8.72,1],[-0.4,8.68,1],[0.7,8.7,1],[1.7,8.72,0.5],
[-1.6,9.1,1],[-0.6,9.12,1],[0.4,9.08,0.5],[1.5,9.1,1],
[-2,9.7,0.5],[-1,9.72,1],[0,9.68,0.5],[1,9.7,0.5],
[-1.4,10.4,1],[-0.5,10.1,0.5],[0.4,10.4,1],[1.3,10.4,0.5],
[-1.1,11,0.5],[-0.2,11.2,1],[0.8,11,0.5],[-0.3,11.5,0.5],[0.4,12,1]
];

// ===== Rendering =====
const NS='http://www.w3.org/2000/svg';
const svg=document.getElementById('fig');
function mk(tag,attrs,parent){const e=document.createElementNS(NS,tag);for(const k in attrs)e.setAttribute(k,attrs[k]);(parent||svg).appendChild(e);return e;}
function jet(t){t=Math.max(0,Math.min(1,t));
 const r=Math.max(0,Math.min(1,1.5-Math.abs(4*t-3)));
 const g=Math.max(0,Math.min(1,1.5-Math.abs(4*t-2)));
 const b=Math.max(0,Math.min(1,1.5-Math.abs(4*t-1)));
 return 'rgb('+Math.round(r*255)+','+Math.round(g*255)+','+Math.round(b*255)+')';}
function cNorm(c){return (c-cDomain[0])/(cDomain[1]-cDomain[0]);}

const grad=document.getElementById('jetgrad');
for(let i=0;i<=40;i++){mk('stop',{offset:(i/40),'stop-color':jet(i/40)},grad);}

const TXT='#404040', AX='#7f7f7f';
const panels=[
 {id:'a',L:169,R:828,T:39,B:1121,yDom:yDomainA,yT:yTicksA,pts:pointsA.concat(pointsAExtra),cbL:852,cbR:897,ylab:'Cloud optical thickness',ylabX:46,cbLabX:980,cbTickX:910},
 {id:'b',L:1188,R:1847,T:39,B:1121,yDom:yDomainB,yT:yTicksB,pts:pointsB.concat(pointsBExtra),cbL:1870,cbR:1916,ylab:'Cloud depth (km)',ylabX:1092,cbLabX:2020,cbTickX:1929}
];

panels.forEach(p=>{
 const g=mk('g',{});
 
 
 const sx=v=>p.L+(v-xDomain[0])/(xDomain[1]-xDomain[0])*(p.R-p.L);
 const sy=v=>p.B-(v-p.yDom[0])/(p.yDom[1]-p.yDom[0])*(p.B-p.T);
 const sc=v=>p.B-cNorm(v)*(p.B-p.T);
 const pg=mk('g',{},g);
 
 
 p.pts.forEach(d=>{
  const c=mk('circle',{cx:sx(d[0]).toFixed(1),cy:sy(d[1]).toFixed(1),r:7,fill:jet(cNorm(d[2]))},pg);
  
  
 });
 const ax=mk('path',{d:`M${p.L},${p.T}V${p.B}H${p.R}`,fill:'none',stroke:AX,'stroke-width':2},g);
 
 
 xTicks.forEach(v=>{
  const x=sx(v);
  mk('line',{x1:x,y1:p.B,x2:x,y2:p.B-9,stroke:AX,'stroke-width':2},g);
  const t=mk('text',{x:x,y:p.B+58,'font-size':41,fill:TXT,'text-anchor':'middle'},g);
  t.textContent=v<0?'-'+Math.abs(v):String(v);
  
  
 });
 p.yT.forEach(v=>{
  const y=sy(v);
  mk('line',{x1:p.L,y1:y,x2:p.L+9,y2:y,stroke:AX,'stroke-width':2},g);
  const t=mk('text',{x:p.L-18,y:y+15,'font-size':41,fill:TXT,'text-anchor':'end'},g);
  t.textContent=String(v);
  
  
 });
 const xl=mk('text',{x:(p.L+p.R)/2,y:1237,'font-size':46,fill:TXT,'text-anchor':'middle'},g);
 xl.innerHTML='<tspan font-style="italic">Dar</tspan> (km)';
 
 
 const yl=mk('text',{x:0,y:0,'font-size':46,fill:TXT,'text-anchor':'middle',transform:`translate(${p.ylabX+16},${(p.T+p.B)/2}) rotate(-90)`},g);
 yl.textContent=p.ylab;
 
 
 const pl=mk('text',{x:p.L+27,y:82,'font-size':45,fill:TXT},g);
 pl.textContent='('+p.id+')';
 
 
 const cb=mk('rect',{x:p.cbL,y:p.T,width:p.cbR-p.cbL,height:p.B-p.T,fill:'url(#jetgrad)',stroke:AX,'stroke-width':1.5},g);
 
 
 cTicks.forEach(v=>{
  const y=sc(v);
  mk('line',{x1:p.cbR-9,y1:y,x2:p.cbR,y2:y,stroke:'#444','stroke-width':1.5},g);
  mk('line',{x1:p.cbL,y1:y,x2:p.cbL+9,y2:y,stroke:'#444','stroke-width':1.5},g);
  const t=mk('text',{x:p.cbTickX,y:y+15,'font-size':41,fill:TXT},g);
  t.textContent=String(v);
  
  
 });
 const cl=mk('text',{x:0,y:0,'font-size':46,fill:TXT,'text-anchor':'middle',transform:`translate(${p.cbLabX+16},578) rotate(-90)`},g);
 cl.textContent='CBH (km)';
 
 
});
</script>
</body></html>
